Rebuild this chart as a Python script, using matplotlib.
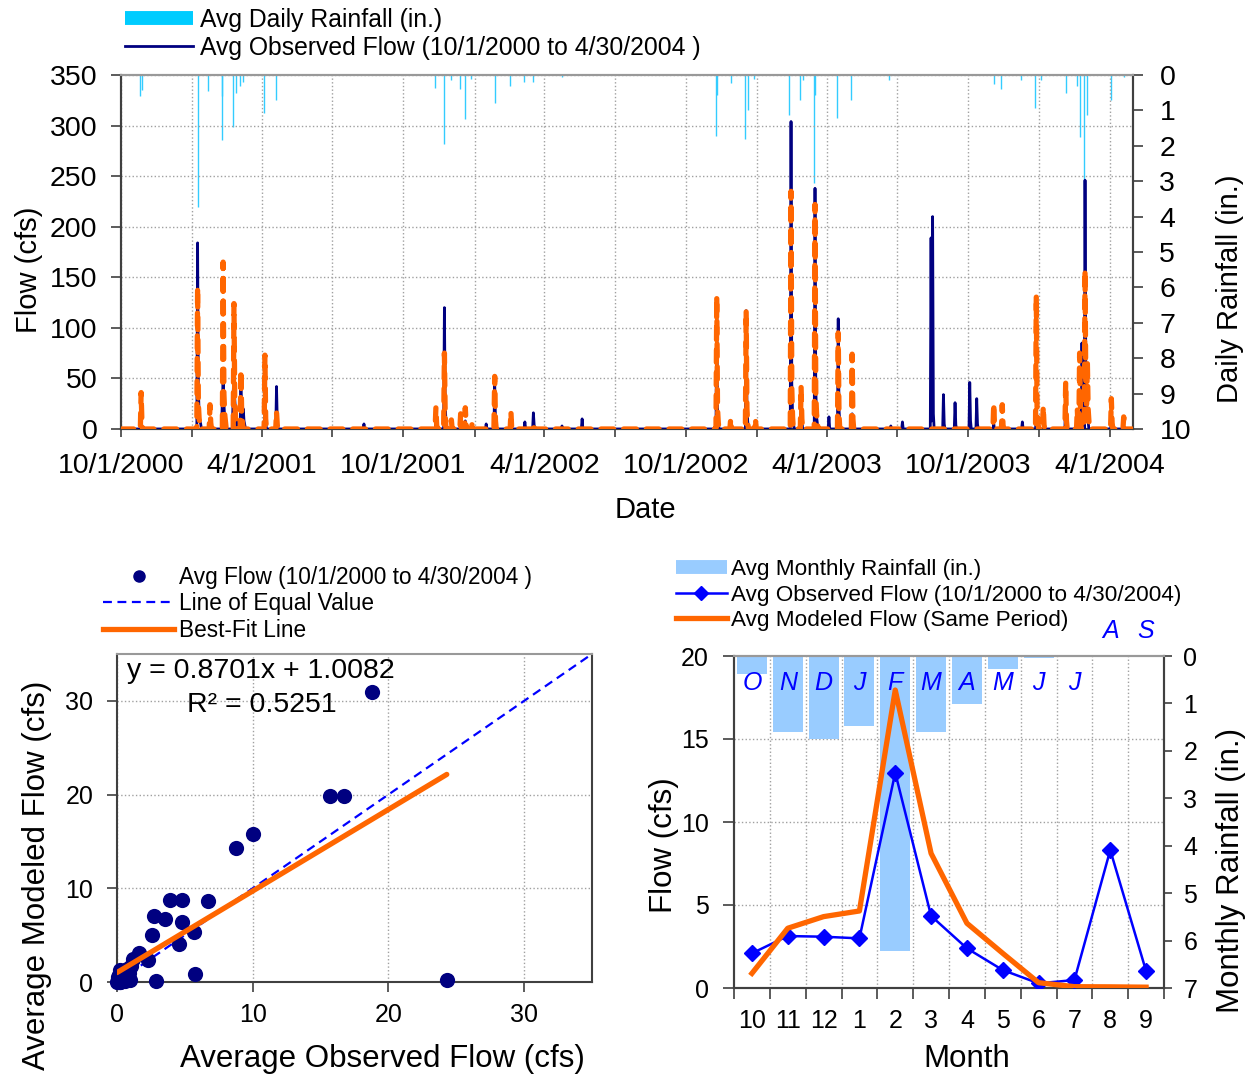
import matplotlib
matplotlib.use("Agg")
import matplotlib.pyplot as plt
import matplotlib.transforms as mtransforms
from matplotlib.lines import Line2D
from matplotlib.ticker import FixedLocator, FuncFormatter, MultipleLocator
import matplotlib.dates as mdates
import numpy as np
import pandas as pd

plt.rcParams['font.family'] = ['Liberation Sans', 'DejaVu Sans']

ORANGE = '#FF6600'
NAVY = '#000080'
CYAN = '#33CCFF'
BLUE = '#0000FF'
LIGHTBLUE = '#99CCFF'
GRID = '#A0A0A0'
DARK = '#404040'
FRAME = '#999999'

# ---------------- daily record, 10/1/2000 to 4/30/2004 ----------------
period_start = "2000-10-01"
period_end = "2004-04-30"

obs_dates = [
    "2000-10-27", "2000-10-28",
    "2001-01-08", "2001-01-09", "2001-01-10", "2001-01-11", "2001-01-12",
    "2001-01-24", "2001-01-25",
    "2001-02-09", "2001-02-10", "2001-02-11", "2001-02-12", "2001-02-13",
    "2001-02-23", "2001-02-24", "2001-02-25", "2001-02-26", "2001-02-27",
    "2001-03-05", "2001-03-06", "2001-03-08", "2001-03-09", "2001-03-10",
    "2001-04-05", "2001-04-06", "2001-04-20", "2001-04-21",
    "2001-08-11", "2001-11-12",
    "2001-11-23", "2001-11-24", "2001-11-25",
    "2001-12-20", "2002-01-16", "2002-01-27", "2002-01-28",
    "2002-02-17", "2002-03-07", "2002-03-18", "2002-03-19",
    "2002-04-24", "2002-05-20",
    "2002-11-10", "2002-11-11", "2002-11-12", "2002-11-29",
    "2002-12-18", "2002-12-19", "2002-12-20",
    "2003-02-14", "2003-02-15", "2003-02-16", "2003-02-17",
    "2003-02-27", "2003-02-28",
    "2003-03-17", "2003-03-18", "2003-03-19", "2003-03-20",
    "2003-04-04", "2003-04-16", "2003-04-17", "2003-04-18",
    "2003-05-04", "2003-05-05", "2003-06-23", "2003-07-08",
    "2003-08-14", "2003-08-15", "2003-08-16", "2003-08-17",
    "2003-08-30", "2003-08-31", "2003-09-14", "2003-09-15",
    "2003-10-03", "2003-10-04", "2003-10-12", "2003-10-13",
    "2003-11-03", "2003-11-14", "2003-12-10", "2003-12-28",
    "2004-02-04", "2004-02-05",
    "2004-02-25", "2004-02-26", "2004-02-27",
    "2004-02-29", "2004-03-01", "2004-03-02", "2004-03-03", "2004-03-04",
    "2004-04-03",
]
obs_cfs = [
    8, 3,
    184, 40, 15, 8, 5,
    10, 5,
    30, 45, 25, 12, 8,
    35, 60, 30, 18, 10,
    40, 15, 20, 8, 4,
    30, 8, 42, 8,
    5, 5,
    120, 25, 8,
    8, 5, 45, 10,
    8, 7, 16, 4,
    3, 10,
    125, 20, 6, 5,
    117, 25, 8,
    304, 45, 15, 8,
    35, 10,
    238, 40, 12, 6,
    12, 109, 20, 6,
    15, 5, 3, 7,
    189, 8, 210, 15,
    34, 5, 26, 4,
    46, 8, 30, 5,
    5, 5, 7, 10,
    40, 8,
    85, 30, 20,
    246, 60, 25, 15, 8,
    5,
]

mod_dates = [
    "2000-10-27", "2000-10-28",
    "2001-01-08", "2001-01-09", "2001-01-10", "2001-01-11",
    "2001-01-24", "2001-01-25",
    "2001-02-10", "2001-02-11", "2001-02-12", "2001-02-13",
    "2001-02-24", "2001-02-25", "2001-02-26",
    "2001-03-05", "2001-03-06", "2001-03-07",
    "2001-04-05", "2001-04-06", "2001-04-20", "2001-04-21",
    "2001-11-12", "2001-11-13", "2001-11-23", "2001-11-24",
    "2001-12-02", "2001-12-14", "2001-12-20", "2001-12-21", "2001-12-29",
    "2002-01-27", "2002-01-28", "2002-02-17", "2002-03-18",
    "2002-11-10", "2002-11-11", "2002-11-12", "2002-11-28",
    "2002-12-18", "2002-12-19", "2002-12-20", "2002-12-30",
    "2003-02-14", "2003-02-15", "2003-02-16",
    "2003-02-27", "2003-02-28",
    "2003-03-17", "2003-03-18", "2003-03-19", "2003-03-20",
    "2003-04-16", "2003-04-17", "2003-05-04", "2003-05-05",
    "2003-11-03", "2003-11-04", "2003-11-14", "2003-11-15",
    "2003-12-28", "2003-12-29", "2003-12-30",
    "2004-01-06", "2004-01-07", "2004-02-04", "2004-02-05",
    "2004-02-19", "2004-02-22", "2004-02-23",
    "2004-02-29", "2004-03-01", "2004-03-02", "2004-03-03", "2004-03-04", "2004-03-05",
    "2004-04-03", "2004-04-04", "2004-04-19",
]
mod_cfs = [
    36, 8,
    140, 25, 10, 5,
    24, 6,
    165, 35, 15, 8,
    124, 30, 12,
    58, 15, 6,
    73, 10, 17, 4,
    21, 4, 75, 15,
    9, 15, 21, 5, 7,
    52, 8, 17, 5,
    131, 20, 6, 10,
    117, 20, 6, 10,
    235, 40, 12,
    42, 10,
    222, 35, 15, 8,
    95, 15, 74, 10,
    25, 4, 24, 4,
    132, 20, 8,
    22, 4, 46, 8,
    20, 75, 25,
    157, 40, 20, 67, 20, 8,
    30, 6, 12,
]

rain_dates = [
    "2000-10-25", "2000-10-28",
    "2001-01-08", "2001-01-22", "2001-02-08", "2001-02-09", "2001-02-23",
    "2001-02-26", "2001-03-04", "2001-03-08", "2001-04-04", "2001-04-19",
    "2001-11-11", "2001-11-22", "2001-12-02", "2001-12-13", "2001-12-19", "2001-12-28",
    "2002-01-27", "2002-02-16", "2002-03-06", "2002-03-17", "2002-04-24",
    "2002-11-09", "2002-11-10", "2002-11-29", "2002-12-17", "2002-12-20", "2002-12-28",
    "2003-02-12", "2003-02-26", "2003-03-01", "2003-03-16", "2003-03-17",
    "2003-04-15", "2003-05-03", "2003-06-21",
    "2003-11-03", "2003-11-13", "2003-12-08", "2003-12-26",
    "2004-01-03", "2004-02-04", "2004-02-19", "2004-02-22", "2004-02-28",
    "2004-03-03", "2004-04-02", "2004-04-19",
]
rain_in = [
    0.59, 0.42,
    3.72, 0.45, 0.60, 1.84, 1.46,
    0.50, 0.30, 0.20, 1.06, 0.70,
    0.38, 1.96, 0.15, 0.40, 1.25, 0.10,
    0.80, 0.30, 0.20, 0.20, 0.05,
    1.72, 0.57, 0.24, 1.81, 1.00, 0.10,
    1.13, 0.70, 0.15, 3.06, 0.57,
    1.22, 0.70, 0.15,
    0.25, 0.40, 0.15, 0.94,
    0.15, 0.50, 0.30, 1.76, 3.23,
    1.13, 0.70, 0.05,
]

# ---------------- monthly averages of flow (observed vs modeled) ----------------
avg_obs_flow = [18.8, 15.7, 16.7, 10.05, 8.8, 3.9, 4.8, 6.7, 2.7, 3.5, 4.8,
                2.6, 5.7, 4.6, 1.65, 1.2, 2.3, 5.75, 2.9, 24.3, 0.96,
                0.0, 0.05, 0.1, 0.2, 0.3, 0.4, 0.5, 0.6, 0.7, 0.15, 0.35,
                0.8, 0.25, 0.45, 1.0, 0.05, 0.6, 0.9, 0.1, 0.3, 0.2, 0.55]
avg_mod_flow = [30.9, 19.8, 19.9, 15.8, 14.3, 8.8, 8.8, 8.6, 7.0, 6.7, 6.4,
                5.0, 5.3, 4.1, 3.1, 2.5, 2.4, 0.85, 0.14, 0.2, 0.2,
                0.0, 0.1, 0.3, 0.05, 0.6, 0.2, 0.9, 0.1, 1.4, 0.8, 1.1,
                0.5, 0.0, 0.4, 1.7, 0.5, 0.7, 1.0, 0.0, 0.3, 1.3, 0.2]
fit_slope = 0.8701
fit_intercept = 1.0082
fit_r2 = 0.5251

# ---------------- average by calendar month ----------------
month_ticks = ['10', '11', '12', '1', '2', '3', '4', '5', '6', '7', '8', '9']
month_letters = ['O', 'N', 'D', 'J', 'F', 'M', 'A', 'M', 'J', 'J', 'A', 'S']
month_rain = [0.37, 1.60, 1.76, 1.48, 6.22, 1.60, 1.01, 0.28, 0.05, 0.02, 0.0, 0.0]
month_obs = [2.09, 3.13, 3.09, 2.99, 12.97, 4.34, 2.39, 1.08, 0.28, 0.48, 8.31, 1.02]
month_mod = [0.88, 3.60, 4.30, 4.64, 17.95, 8.11, 3.90, 2.09, 0.32, 0.08, 0.07, 0.05]

# ======================================================================
W, H = 1255, 1078
fig = plt.figure(figsize=(W / 100, H / 100), dpi=100)


def box(left, top, right, bottom):
    return [left / W, 1 - bottom / H, (right - left) / W, (bottom - top) / H]


def style_spines(ax):
    for side in ('left', 'right', 'bottom'):
        ax.spines[side].set_color(DARK)
        ax.spines[side].set_linewidth(1.5)
    ax.spines['top'].set_color(FRAME)
    ax.spines['top'].set_linewidth(1.5)


# ---------------- top: daily hydrograph ----------------
ax1 = fig.add_axes(box(121, 75, 1133, 429))
ax1r = ax1.twinx()
ax1.set_zorder(ax1r.get_zorder() + 1)
ax1.patch.set_visible(False)

days = pd.date_range(period_start, period_end, freq='D')
obs_daily = pd.Series(obs_cfs, index=pd.to_datetime(obs_dates)).reindex(days, fill_value=0.0)
mod_daily = pd.Series(mod_cfs, index=pd.to_datetime(mod_dates)).reindex(days, fill_value=0.0)

ax1r.vlines(pd.to_datetime(rain_dates), 0, rain_in, color=CYAN, lw=1.0)
ax1r.set_ylim(10, 0)
ax1r.yaxis.set_major_locator(MultipleLocator(1))

ax1.plot(days, obs_daily.values, color=NAVY, lw=2.0, zorder=3)
ax1.plot(days, mod_daily.values, color=ORANGE, lw=3.8, ls=(0, (2.4, 1.9)),
         dash_capstyle='round', zorder=4)

ax1.set_xlim(pd.Timestamp('2000-10-01'), pd.Timestamp('2004-05-01'))
ax1.set_ylim(0, 350)
ax1.yaxis.set_major_locator(MultipleLocator(50))

quarter_starts = pd.date_range('2000-10-01', '2004-04-01', freq='QS')
ax1.xaxis.set_major_locator(FixedLocator(mdates.date2num(quarter_starts)))


def date_label(x, pos):
    d = mdates.num2date(x)
    if d.month in (4, 10):
        return f"{d.month}/{d.day}/{d.year}"
    return ""


ax1.xaxis.set_major_formatter(FuncFormatter(date_label))
ax1.grid(True, linestyle=':', color=GRID, lw=1.0)
ax1.tick_params(axis='x', labelsize=20.5, length=6, width=1.2, direction='out', pad=11,
                colors=DARK, labelcolor='black')
ax1.tick_params(axis='y', labelsize=20.5, length=7, width=1.2, direction='out', pad=10,
                colors=DARK, labelcolor='black')
ax1r.tick_params(axis='y', labelsize=20.5, length=7, width=1.2, direction='out', pad=12,
                 colors=DARK, labelcolor='black')
style_spines(ax1)
style_spines(ax1r)

ax1.set_xlabel('Date', fontsize=21)
ax1.xaxis.set_label_coords(0.518, -0.189)
ax1.set_ylabel('Flow (cfs)', fontsize=21)
ax1.yaxis.set_label_coords(-0.077, 0.449)
ax1r.set_ylabel('Daily Rainfall (in.)', fontsize=21, rotation=90)
ax1r.yaxis.set_label_coords(1.082, 0.395)

top_handles = [Line2D([], [], color='#00CCFF', lw=10, solid_capstyle='butt'),
               Line2D([], [], color=NAVY, lw=2)]
fig.legend(top_handles,
           ['Avg Daily Rainfall (in.)', 'Avg Observed Flow (10/1/2000 to 4/30/2004 )'],
           loc='upper left', bbox_to_anchor=(125 / W, 1 - 8 / H), frameon=False,
           fontsize=17.8, handlelength=2.75, handletextpad=0.3, labelspacing=0.15,
           borderpad=0, borderaxespad=0)

# ---------------- bottom left: observed vs modeled ----------------
ax2 = fig.add_axes(box(117, 654, 592, 982))
ax2.scatter(avg_obs_flow, avg_mod_flow, s=120, color=NAVY, zorder=4, clip_on=False, linewidths=0)
ax2.plot([0, 35], [0, 35], color=BLUE, lw=1.6, ls=(0, (4.0, 2.5)), zorder=3)
fit_x = np.array([min(avg_obs_flow), max(avg_obs_flow)])
ax2.plot(fit_x, fit_slope * fit_x + fit_intercept, color=ORANGE, lw=3.8,
         solid_capstyle='round', zorder=5)
ax2.set_xlim(0, 35)
ax2.set_ylim(0, 35)
ax2.xaxis.set_major_locator(MultipleLocator(10))
ax2.yaxis.set_major_locator(MultipleLocator(10))
ax2.grid(True, linestyle=':', color=GRID, lw=1.0)
ax2.tick_params(labelsize=18, length=7, width=1.2, direction='out', colors=DARK, labelcolor='black')
ax2.tick_params(axis='x', pad=8)
ax2.tick_params(axis='y', pad=10)
style_spines(ax2)
ax2.set_xlabel('Average Observed Flow (cfs)', fontsize=22.5)
ax2.xaxis.set_label_coords(0.558, -0.189)
ax2.set_ylabel('Average Modeled Flow (cfs)', fontsize=22.5)
ax2.yaxis.set_label_coords(-0.137, 0.326)
ax2.text(0.021, 0.948, f"y = {fit_slope:.4f}x + {fit_intercept:.4f}", transform=ax2.transAxes,
         fontsize=20.5, ha='left', va='center', zorder=6)
ax2.text(0.147, 0.845, f"R² = {fit_r2:.4f}", transform=ax2.transAxes,
         fontsize=20.5, ha='left', va='center', zorder=6)

bl_handles = [Line2D([], [], color=NAVY, marker='o', ms=8, lw=0),
              Line2D([], [], color=BLUE, lw=1.6, ls=(0, (4.0, 2.5))),
              Line2D([], [], color=ORANGE, lw=3.8)]
fig.legend(bl_handles,
           ['Avg Flow (10/1/2000 to 4/30/2004 )', 'Line of Equal Value', 'Best-Fit Line'],
           loc='upper left', bbox_to_anchor=(103 / W, 1 - 566 / H), frameon=False,
           fontsize=16.3, handlelength=3.15, handletextpad=0.2, labelspacing=0.15,
           borderpad=0, borderaxespad=0)

# ---------------- bottom right: monthly averages ----------------
ax3 = fig.add_axes(box(734, 656, 1164, 988))
ax3r = ax3.twinx()
ax3.set_zorder(ax3r.get_zorder() + 1)
ax3.patch.set_visible(False)

xpos = np.arange(len(month_ticks))
ax3r.bar(xpos, month_rain, width=0.84, color=LIGHTBLUE, zorder=2)
ax3r.set_ylim(7, 0)
ax3r.yaxis.set_major_locator(MultipleLocator(1))

# gridlines sit behind the rainfall bars
flow_on_rain = mtransforms.blended_transform_factory(ax3r.transAxes, ax3.transData)
for v in (5, 10, 15):
    ax3r.add_line(Line2D([0, 1], [v, v], transform=flow_on_rain, color=GRID,
                         ls=':', lw=1.0, zorder=1))
for b in np.arange(0.5, 11, 1.0):
    ax3r.axvline(b, color=GRID, ls=':', lw=1.0, zorder=1)

ax3.plot(xpos, month_obs, color=BLUE, lw=1.8, marker='D', ms=8, zorder=4)
ax3.plot(xpos, month_mod, color=ORANGE, lw=3.8, zorder=5)
ax3.set_xlim(-0.5, 11.5)
ax3.set_ylim(0, 20)
ax3.yaxis.set_major_locator(MultipleLocator(5))
ax3.set_xticks(xpos)
ax3.set_xticklabels(month_ticks)
ax3.xaxis.set_minor_locator(FixedLocator(np.arange(-0.5, 12, 1.0)))
ax3.tick_params(axis='x', which='major', length=0, labelsize=18, pad=15)
ax3.tick_params(axis='x', which='minor', length=8, width=1.2, direction='out', colors=DARK)
ax3.tick_params(axis='y', labelsize=18, length=8, width=1.2, direction='out', pad=10,
                colors=DARK, labelcolor='black')
ax3r.tick_params(axis='y', labelsize=18, length=6, width=1.2, direction='out', pad=8,
                 colors=DARK, labelcolor='black')
style_spines(ax3)
style_spines(ax3r)

letter_tf = mtransforms.blended_transform_factory(ax3.transData, ax3.transAxes)
for i, letter in enumerate(month_letters):
    y = 0.918 if month_rain[i] > 0 else 1.074
    ax3.text(xpos[i], y, letter, transform=letter_tf, ha='center', va='center',
             fontsize=18, style='italic', color=BLUE, clip_on=False, zorder=6)

ax3.set_xlabel('Month', fontsize=22.5)
ax3.xaxis.set_label_coords(0.542, -0.169)
ax3.set_ylabel('Flow (cfs)', fontsize=22.5)
ax3.yaxis.set_label_coords(-0.128, 0.431)
ax3r.set_ylabel('Monthly Rainfall (in.)', fontsize=22.5, rotation=90)
ax3r.yaxis.set_label_coords(1.121, 0.355)

br_handles = [Line2D([], [], color=LIGHTBLUE, lw=10, solid_capstyle='butt'),
              Line2D([], [], color=BLUE, lw=1.8, marker='D', ms=7),
              Line2D([], [], color=ORANGE, lw=3.8)]
fig.legend(br_handles,
           ['Avg Monthly Rainfall (in.)', 'Avg Observed Flow (10/1/2000 to 4/30/2004)',
            'Avg Modeled Flow (Same Period)'],
           loc='upper left', bbox_to_anchor=(676 / W, 1 - 559 / H), frameon=False,
           fontsize=16.2, handlelength=2.25, handletextpad=0.2, labelspacing=0.2,
           borderpad=0, borderaxespad=0)

fig.savefig('out.png', dpi=100)
